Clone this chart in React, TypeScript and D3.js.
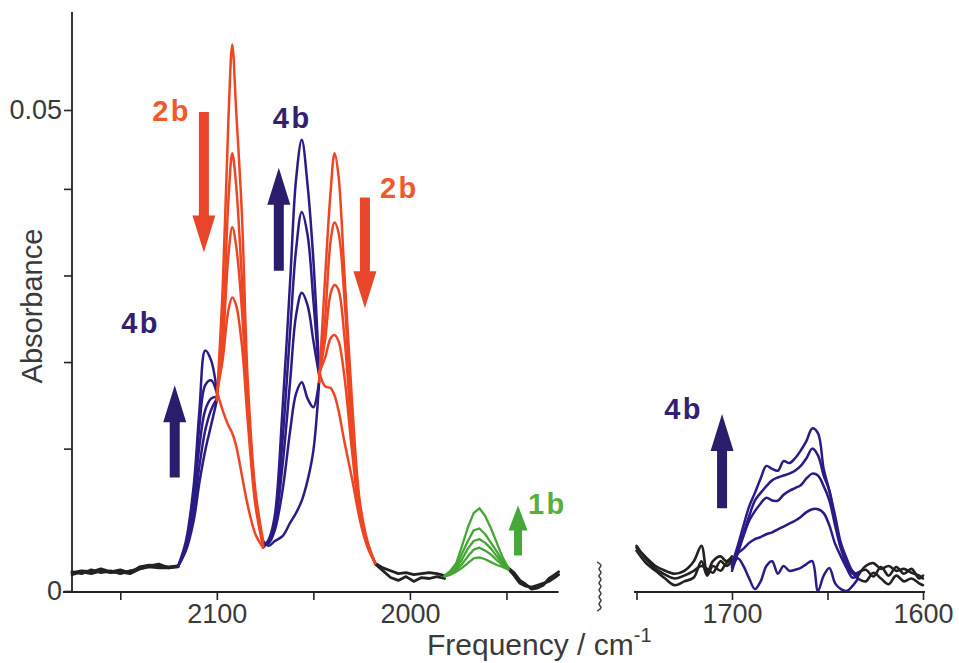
import React, { useRef, useEffect } from 'react';
import * as d3 from 'd3';

// All absorbance values are in mOD (absorbance x 1000), spectra ordered first -> last.

// C≡O stretch region (left panel), coloured by band
const bandFreq = [2120, 2116, 2112, 2109, 2106, 2103, 2100, 2097, 2094, 2092, 2090, 2087, 2084, 2080, 2076, 2073, 2070, 2066, 2062, 2059, 2056, 2053, 2050, 2047, 2044, 2041, 2039, 2037, 2034, 2030, 2026, 2022, 2018];
const band0 = [2.6, 4.2, 7.3, 11.3, 14.6, 17.2, 19.8, 31.3, 49.0, 56.8, 50.0, 39.1, 21.9, 10.4, 5.2, 4.7, 5.2, 5.7, 7.1, 8.1, 9.4, 11.5, 14.6, 21.7, 32.3, 41.7, 45.5, 43.2, 33.3, 19.8, 9.4, 5.2, 2.9];
const band1 = [2.6, 4.4, 8.3, 13.0, 16.7, 18.8, 20.0, 27.1, 40.6, 45.5, 42.2, 32.3, 19.8, 9.4, 4.9, 5.0, 6.3, 10.4, 16.7, 20.5, 21.7, 20.0, 19.1, 21.9, 28.1, 36.5, 38.3, 37.3, 30.7, 17.7, 8.9, 5.0, 2.9];
const band2 = [2.6, 4.6, 9.4, 15.1, 18.8, 20.0, 20.2, 25.5, 34.9, 37.8, 35.9, 29.2, 18.8, 9.4, 4.7, 5.2, 6.8, 13.0, 21.9, 28.6, 31.0, 29.7, 26.0, 22.4, 26.0, 31.0, 31.8, 31.3, 26.6, 16.1, 8.3, 4.9, 2.9];
const band3 = [2.6, 4.9, 10.2, 17.2, 21.4, 21.9, 20.6, 24.0, 29.2, 30.5, 29.7, 25.5, 17.7, 8.9, 4.6, 5.2, 7.3, 15.6, 27.1, 35.4, 39.4, 37.0, 30.2, 22.7, 24.2, 26.3, 26.6, 26.0, 22.4, 14.6, 7.8, 4.7, 2.9];
const band4 = [2.6, 5.2, 10.9, 18.8, 25.0, 24.0, 20.8, 18.8, 17.2, 16.4, 15.1, 12.0, 8.9, 5.9, 4.5, 5.4, 7.8, 18.8, 32.3, 42.7, 46.9, 42.2, 34.4, 22.9, 21.3, 21.1, 20.3, 18.8, 15.6, 11.7, 7.5, 4.6, 2.9];

// which compound each frequency window belongs to
const bandWindows = [
  { from: 2120, to: 2100, species: '4b' },
  { from: 2100, to: 2076, species: '2b' },
  { from: 2076, to: 2047, species: '4b' },
  { from: 2047, to: 2018, species: '2b' },
];

// baselines (black)
const baseLeftFreq = [2175, 2170, 2165, 2160, 2155, 2150, 2145, 2140, 2135, 2130, 2125, 2120];
const baseLeftA = [1.9, 2.1, 2.0, 2.3, 2.0, 2.2, 1.9, 2.5, 2.7, 2.6, 2.5, 2.6];
const baseLeftB = [1.7, 2.0, 1.8, 2.1, 1.9, 2.0, 1.8, 2.3, 2.5, 2.4, 2.4, 2.5];
const baseLeftC = [2.0, 1.8, 2.2, 1.9, 2.1, 1.8, 2.1, 2.3, 2.6, 2.8, 2.4, 2.6];

const baseMidFreq = [2018, 2014, 2010, 2006, 2002, 1998, 1994, 1990, 1986, 1982];
const baseMidA = [2.9, 2.4, 2.1, 1.8, 1.9, 1.7, 1.8, 1.9, 1.8, 1.6];
const baseMidB = [2.8, 2.1, 1.4, 1.1, 1.5, 1.0, 1.4, 1.3, 1.5, 1.3];

const baseEndFreq = [1949, 1946, 1943, 1940, 1937, 1934, 1931, 1928, 1925, 1923];
const baseEndA = [2.3, 1.6, 0.8, 0.5, 0.4, 0.6, 0.8, 1.0, 1.4, 1.7];
const baseEndB = [2.4, 1.9, 1.1, 0.7, 0.2, 0.3, 0.6, 1.3, 1.7, 2.0];

// 1b band (green)
const greenFreq = [1982, 1979, 1976, 1973, 1970, 1967, 1964, 1961, 1958, 1955, 1952, 1949];
const green0 = [1.5, 1.7, 2.0, 2.4, 2.9, 3.4, 3.5, 3.3, 3.0, 2.7, 2.5, 2.2];
const green1 = [1.5, 1.8, 2.2, 2.8, 3.6, 4.3, 4.5, 4.2, 3.8, 3.2, 2.7, 2.3];
const green2 = [1.6, 1.9, 2.4, 3.3, 4.4, 5.2, 5.4, 5.0, 4.4, 3.6, 2.9, 2.3];
const green3 = [1.6, 2.0, 2.6, 3.9, 5.2, 6.3, 6.5, 5.9, 5.0, 4.1, 3.1, 2.4];
const green4 = [1.6, 2.1, 2.9, 4.7, 6.6, 8.1, 8.6, 7.8, 6.5, 5.0, 3.5, 2.4];

// right panel
const amideBaseLeftFreq = [1750, 1745, 1740, 1735, 1730, 1725, 1720, 1716, 1713, 1710, 1706, 1703, 1700];
const amideBaseLeftA = [4.5, 3.5, 2.6, 2.1, 1.8, 2.1, 3.1, 4.7, 1.9, 3.1, 3.6, 3.1, 3.6];
const amideBaseLeftB = [4.2, 2.9, 2.1, 1.3, 0.6, 1.0, 1.4, 3.1, 1.6, 2.6, 2.1, 2.9, 3.3];
const amideBaseLeftC = [4.7, 3.3, 2.3, 1.7, 1.3, 1.6, 2.1, 2.6, 2.3, 1.9, 3.1, 2.6, 3.1];

const amideFreq = [1700, 1697, 1694, 1691, 1688, 1685, 1682, 1679, 1676, 1673, 1670, 1667, 1664, 1661, 1658, 1655, 1652, 1649, 1646, 1643, 1640, 1637, 1634];
const amide0 = [2.1, 3.4, 2.6, 1.3, 0.2, 1.0, 2.6, 3.1, 1.8, 2.6, 2.1, 2.2, 2.4, 2.8, 3.1, 0.0, 1.6, 2.4, 0.8, 0.2, 0.0, 0.5, 1.3];
const amide1 = [2.6, 3.9, 4.4, 5.0, 5.4, 5.6, 5.9, 6.1, 6.4, 6.7, 7.0, 7.3, 7.7, 8.2, 8.5, 8.5, 8.1, 6.8, 4.9, 3.6, 2.4, 1.4, 1.6];
const amide2 = [2.4, 3.9, 5.7, 7.3, 8.3, 9.1, 9.7, 9.4, 9.4, 10.0, 10.4, 10.7, 11.0, 11.7, 12.2, 12.0, 10.9, 9.4, 6.8, 4.4, 2.8, 1.8, 1.9];
const amide3 = [2.6, 4.2, 6.0, 7.8, 9.4, 10.2, 10.9, 11.5, 11.8, 12.0, 12.2, 12.5, 13.0, 13.8, 14.8, 14.1, 12.0, 10.4, 7.3, 4.7, 3.1, 1.9, 1.3];
const amide4 = [2.8, 4.7, 6.8, 8.8, 10.2, 11.7, 13.0, 12.7, 12.5, 13.5, 13.3, 13.8, 14.6, 15.6, 16.9, 16.4, 12.7, 10.4, 7.8, 5.0, 3.4, 2.1, 1.6];

const amideBaseEndFreq = [1634, 1630, 1626, 1622, 1618, 1614, 1610, 1606, 1602, 1600];
const amideBaseEndA = [1.6, 2.6, 2.9, 2.3, 2.6, 2.1, 2.3, 1.9, 1.6, 1.3];
const amideBaseEndB = [1.3, 1.0, 1.9, 1.3, 0.7, 1.6, 1.0, 1.3, 0.8, 0.6];
const amideBaseEndC = [1.9, 2.2, 1.5, 2.5, 1.6, 2.5, 1.8, 2.3, 1.3, 1.6];

// axes
const yMajorTicks = [0, 0.05];
const yMinorTicks = [0.0148, 0.0238, 0.0328, 0.0418];
const leftTicks = [2150, 2100, 2050, 2000, 1950];
const leftLabels = [2100, 2000];
const rightTicks = [1750, 1700, 1650, 1600];
const rightLabels = [1700, 1600];

// annotations: arrows (from -> to in mOD) and labels
const arrows = [
  { panel: 'L', freq: 2106.7, from: 49.8, to: 35.2, species: '2b' },
  { panel: 'L', freq: 2067.9, from: 33.3, to: 44.0, species: '4b' },
  { panel: 'L', freq: 2023.3, from: 40.9, to: 29.4, species: '2b' },
  { panel: 'L', freq: 2121.8, from: 11.8, to: 21.4, species: '4b' },
  { panel: 'L', freq: 1944.0, from: 3.7, to: 8.9, species: '1b' },
  { panel: 'R', freq: 1705.2, from: 8.6, to: 18.4, species: '4b' },
];
const labels = [
  { panel: 'L', freq: 2133.5, value: 48.9, text: '2b', species: '2b' },
  { panel: 'L', freq: 2071.0, value: 48.1, text: '4b', species: '4b' },
  { panel: 'L', freq: 2015.5, value: 40.9, text: '2b', species: '2b' },
  { panel: 'L', freq: 2149.5, value: 26.8, text: '4b', species: '4b' },
  { panel: 'L', freq: 1938.9, value: 8.0, text: '1b', species: '1b' },
  { panel: 'R', freq: 1735.5, value: 17.9, text: '4b', species: '4b' },
];

const lineColor: Record<string, string> = { '2b': '#ee4623', '4b': '#2a1c86', '1b': '#45a636' };
const arrowColor: Record<string, string> = { '2b': '#e9452a', '4b': '#2c1c6c', '1b': '#46a83a' };
const labelColor: Record<string, string> = { '2b': '#ef5a2c', '4b': '#34206e', '1b': '#58b03c' };
const BLACK = '#252122';
const FONT = '"Liberation Sans", Arial, Helvetica, sans-serif';

const App = () => {
  const svgRef = useRef<SVGSVGElement>(null);

  useEffect(() => {
    const svg = d3.select(svgRef.current);
    svg.selectAll('*').remove();

    // scales
    const y = d3.scaleLinear().domain([0, 0.05]).range([591, 110]);
    const xL = d3.scaleLinear().domain([2175, 1923]).range([72, 558.6]);
    const xR = d3.scaleLinear().domain([1750, 1600]).range([636.5, 923]);

    const pairs = (fs: number[], vs: number[]) => fs.map((f, i) => [f, vs[i]] as [number, number]);
    const makeLine = (x: d3.ScaleLinear<number, number>, curve: d3.CurveFactory) =>
      d3
        .line<[number, number]>()
        .x((d) => x(d[0]))
        .y((d) => y(d[1] / 1000))
        .curve(curve);

    const smoothL = makeLine(xL, d3.curveCatmullRom.alpha(0.5));
    const roughL = makeLine(xL, d3.curveLinear);
    const roughR = makeLine(xR, d3.curveCatmullRom.alpha(0.5));

    const draw = (g: any, gen: any, pts: [number, number][], color: string, w: number) =>
      g.append('path').attr('d', gen(pts)).attr('fill', 'none').attr('stroke', color)
        .attr('stroke-width', w).attr('stroke-linejoin', 'round').attr('stroke-linecap', 'round');

    const plot = svg.append('g');

    // black baselines
    [baseLeftA, baseLeftB, baseLeftC].forEach((v) => draw(plot, roughL, pairs(baseLeftFreq, v), BLACK, 2.8));
    [baseMidA, baseMidB].forEach((v) => draw(plot, roughL, pairs(baseMidFreq, v), BLACK, 2.8));
    [baseEndA, baseEndB].forEach((v) => draw(plot, roughL, pairs(baseEndFreq, v), BLACK, 2.8));
    [amideBaseLeftA, amideBaseLeftB, amideBaseLeftC].forEach((v) => draw(plot, roughR, pairs(amideBaseLeftFreq, v), BLACK, 2.6));
    [amideBaseEndA, amideBaseEndB, amideBaseEndC].forEach((v) => draw(plot, roughR, pairs(amideBaseEndFreq, v), BLACK, 2.6));

    // band spectra, one colour per window; blue first, red on top
    const bands = [band0, band1, band2, band3, band4];
    ['4b', '2b'].forEach((sp) => {
      bandWindows.filter((w) => w.species === sp).forEach((w) => {
        bands.forEach((v) => {
          const pts = pairs(bandFreq, v).filter((d) => d[0] <= w.from && d[0] >= w.to);
          draw(plot, smoothL, pts, lineColor[sp], 2.5);
        });
      });
    });

    // 1b band
    [green0, green1, green2, green3, green4].forEach((v) => draw(plot, roughL, pairs(greenFreq, v), lineColor['1b'], 2.3));

    // amide region
    [amide0, amide1, amide2, amide3, amide4].forEach((v) => draw(plot, roughR, pairs(amideFreq, v), lineColor['4b'], 2.5));

    // axes
    const axisStyle = (g: any) => {
      g.select('.domain').remove();
      g.selectAll('line').attr('stroke', BLACK).attr('stroke-width', 1.6);
      g.selectAll('text').attr('fill', '#3a3a3a').attr('font-size', 27).attr('font-family', FONT);
    };

    const yAxis = svg.append('g').attr('transform', 'translate(72,0)')
      .call(d3.axisLeft(y).tickValues(yMajorTicks).tickSize(8).tickPadding(2)
        .tickFormat((d: any) => (d === 0 ? '0' : d3.format('.2f')(d))));
    axisStyle(yAxis);
    const yMinor = svg.append('g').attr('transform', 'translate(72,0)')
      .call(d3.axisLeft(y).tickValues(yMinorTicks).tickSize(8).tickFormat(() => ''));
    axisStyle(yMinor);

    const xAxisL = svg.append('g').attr('transform', 'translate(0,592)')
      .call(d3.axisBottom(xL).tickValues(leftTicks).tickSize(8).tickPadding(4)
        .tickFormat((d: any) => (leftLabels.includes(d) ? String(d) : '')));
    axisStyle(xAxisL);
    const xAxisR = svg.append('g').attr('transform', 'translate(0,592)')
      .call(d3.axisBottom(xR).tickValues(rightTicks).tickSize(8).tickPadding(4)
        .tickFormat((d: any) => (rightLabels.includes(d) ? String(d) : '')));
    axisStyle(xAxisR);

    // axis lines
    svg.append('line').attr('x1', 72).attr('x2', 72).attr('y1', 12).attr('y2', 592)
      .attr('stroke', BLACK).attr('stroke-width', 1.8);
    svg.append('line').attr('x1', 63).attr('x2', xL.range()[1]).attr('y1', 592).attr('y2', 592)
      .attr('stroke', BLACK).attr('stroke-width', 1.8);
    svg.append('line').attr('x1', 634).attr('x2', 925).attr('y1', 592).attr('y2', 592)
      .attr('stroke', BLACK).attr('stroke-width', 1.8);

    // axis break squiggle
    const squiggle = d3.range(0, 15).map((i) => [600 + (i % 2 === 0 ? -2.8 : 2.8), 562 + i * 3.5] as [number, number]);
    svg.append('path').attr('d', d3.line().curve(d3.curveBasis)(squiggle))
      .attr('fill', 'none').attr('stroke', '#444').attr('stroke-width', 1.6);

    // axis titles
    svg.append('text').attr('transform', 'translate(42,306) rotate(-90)').attr('text-anchor', 'middle')
      .attr('font-size', 29).attr('font-family', FONT).attr('fill', '#3a3a3a').text('Absorbance');
    const xt = svg.append('text').attr('x', 427).attr('y', 655).attr('font-size', 30)
      .attr('font-family', FONT).attr('fill', '#3a3a3a');
    xt.append('tspan').text('Frequency / cm');
    xt.append('tspan').attr('dy', -13).attr('font-size', 20).text('-1');

    // arrows
    const arrowPath = (x: number, y0: number, y1: number, shaft: number, head: number, headLen: number) => {
      const dir = y1 < y0 ? -1 : 1;
      const yh = y1 - dir * headLen;
      return `M${x - shaft / 2},${y0} L${x - shaft / 2},${yh} L${x - head / 2},${yh} L${x},${y1} L${x + head / 2},${yh} L${x + shaft / 2},${yh} L${x + shaft / 2},${y0} Z`;
    };
    arrows.forEach((a) => {
      const x = a.panel === 'L' ? xL(a.freq) : xR(a.freq);
      const small = a.species === '1b';
      svg.append('path')
        .attr('d', arrowPath(x, y(a.from / 1000), y(a.to / 1000), small ? 8 : 10, small ? 19 : 23, small ? 25 : 37))
        .attr('fill', arrowColor[a.species]);
    });

    // labels
    labels.forEach((l) => {
      const x = l.panel === 'L' ? xL(l.freq) : xR(l.freq);
      svg.append('text').attr('x', x).attr('y', y(l.value / 1000))
        .attr('font-size', 29).attr('font-weight', 'bold').attr('letter-spacing', 2.5)
        .attr('font-family', FONT).attr('fill', labelColor[l.species]).text(l.text);
    });
  }, []);

  return (
    <svg
      ref={svgRef}
      width={959}
      height={663}
      style={{ position: 'absolute', left: 0, top: 0, background: '#fff' }}
    ></svg>
  );
};

export default App;
